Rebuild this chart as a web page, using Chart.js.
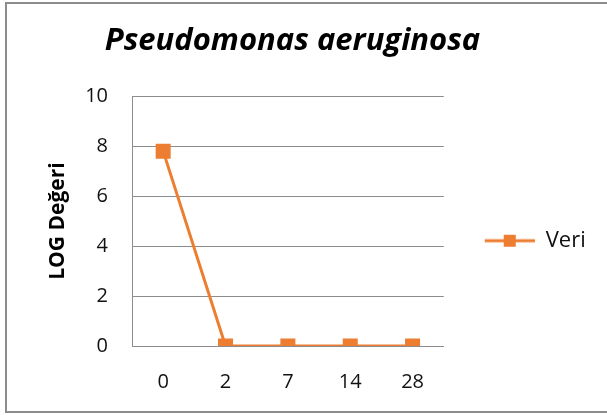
<!DOCTYPE html>
<html lang="tr">
<head>
<meta charset="UTF-8">
<title>Pseudomonas aeruginosa</title>
<script src="https://cdn.jsdelivr.net/npm/chart.js"></script>
<style>
  body { margin: 0; background: #fff; }
  #box {
    position: absolute; left: 5px; top: 2px; width: 604px; height: 411px;
    border: 2px solid #8c8c8c; box-sizing: border-box; background: #fff;
  }
</style>
</head>
<body>
<div id="box"><canvas id="chart"></canvas></div>
<script>
  // data
  const days = ['0', '2', '7', '14', '28'];
  const logValues = [7.8, 0, 0, 0, 0];
  const seriesName = 'Veri';
  const yTicks = [0, 2, 4, 6, 8, 10];

  const orange = '#ED7D31';
  const font = "'Open Sans', sans-serif";

  // legend symbol: line with a square in the middle (left part kept blank as spacing)
  const sym = document.createElement('canvas');
  sym.width = 81; sym.height = 14;
  let g = sym.getContext('2d');
  g.strokeStyle = orange; g.lineWidth = 3;
  g.beginPath(); g.moveTo(31, 7); g.lineTo(81, 7); g.stroke();
  g.fillStyle = orange; g.fillRect(50, 1, 12, 12);

  new Chart(document.getElementById('chart'), {
    type: 'line',
    data: {
      labels: days,
      datasets: [{
        label: seriesName,
        data: logValues,
        borderColor: orange,
        backgroundColor: orange,
        borderWidth: 3,
        pointStyle: 'rect',
        pointRadius: 8.5,
        pointHoverRadius: 8.5,
        fill: false,
        tension: 0
      }]
    },
    options: {
      responsive: true,
      maintainAspectRatio: false,
      animation: false,
      layout: { padding: { left: -17, right: 12, top: 0, bottom: 0 } },
      plugins: {
        title: {
          display: true,
          text: 'Pseudomonas aeruginosa',
          color: '#000',
          font: { family: font, size: 31, weight: 'bold', style: 'italic' },
          padding: { top: 19, bottom: 36 }
        },
        legend: {
          position: 'right',
          title: { display: true, text: ' ', padding: { top: 26, bottom: 26 } },
          labels: {
            usePointStyle: true,
            pointStyle: sym,
            pointStyleWidth: 81,
            color: '#111',
            font: { family: font, size: 22 },
            padding: 10
          }
        },
        tooltip: { enabled: false }
      },
      scales: {
        x: {
          offset: true,
          grid: { display: false },
          border: { display: true, color: '#8c8c8c', width: 1 },
          ticks: { color: '#111', font: { family: font, size: 20 }, padding: 16 },
          afterFit: s => { s.height = 65; }
        },
        y: {
          min: 0,
          max: 10,
          afterBuildTicks: s => { s.ticks = yTicks.map(v => ({ value: v })); },
          grid: { color: '#8c8c8c', drawTicks: false },
          border: { display: true, color: '#8c8c8c', width: 1 },
          ticks: { color: '#111', font: { family: font, size: 20 }, padding: 24 },
          title: {
            display: true,
            text: 'LOG Değeri',
            color: '#000',
            font: { family: font, size: 21, weight: 'bold' },
            padding: { top: 55, bottom: 0 }
          },
          afterFit: s => { s.width = 142; }
        }
      }
    }
  });
</script>
</body>
</html>
